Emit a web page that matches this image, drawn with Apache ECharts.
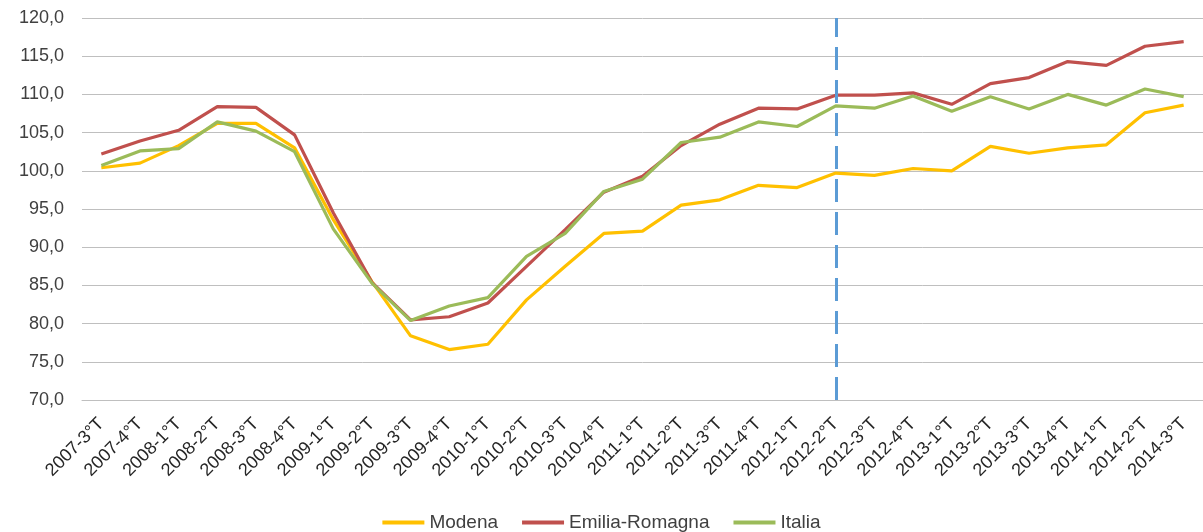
<!DOCTYPE html>
<html>
<head>
<meta charset="utf-8">
<script src="https://cdn.jsdelivr.net/npm/echarts@6/dist/echarts.min.js"></script>
<style>
  html, body { margin: 0; padding: 0; background: #fff; }
  #chart { width: 1203px; height: 532px; }
</style>
</head>
<body>
<div id="chart"></div>
<script>
const quarters = [
  "2007-3°T", "2007-4°T",
  "2008-1°T", "2008-2°T", "2008-3°T", "2008-4°T",
  "2009-1°T", "2009-2°T", "2009-3°T", "2009-4°T",
  "2010-1°T", "2010-2°T", "2010-3°T", "2010-4°T",
  "2011-1°T", "2011-2°T", "2011-3°T", "2011-4°T",
  "2012-1°T", "2012-2°T", "2012-3°T", "2012-4°T",
  "2013-1°T", "2013-2°T", "2013-3°T", "2013-4°T",
  "2014-1°T", "2014-2°T", "2014-3°T",
];

const modena = [
  100.4, 101.0, 103.3, 106.2, 106.2, 103.0, 93.6, 85.5, 78.4, 76.6,
  77.3, 83.1, 87.5, 91.8, 92.1, 95.5, 96.2, 98.1, 97.8, 99.7,
  99.4, 100.3, 100.0, 103.2, 102.3, 103.0, 103.4, 107.6, 108.6,
];
const emiliaRomagna = [
  102.2, 103.9, 105.3, 108.4, 108.3, 104.7, 94.5, 85.4, 80.5, 80.9,
  82.7, 87.5, 92.3, 97.2, 99.3, 103.3, 106.1, 108.2, 108.1, 109.9,
  109.9, 110.2, 108.7, 111.4, 112.2, 114.3, 113.8, 116.3, 116.9,
];
const italia = [
  100.7, 102.6, 102.9, 106.4, 105.2, 102.5, 92.4, 85.3, 80.4, 82.3,
  83.4, 88.8, 91.8, 97.3, 98.9, 103.7, 104.4, 106.4, 105.8, 108.5,
  108.2, 109.8, 107.8, 109.7, 108.1, 110.0, 108.6, 110.7, 109.7,
];

const markerQuarter = "2012-2°T";

const font = "Liberation Sans, Arial, sans-serif";

function lineSeries(name, color, data) {
  return {
    name,
    type: "line",
    symbol: "none",
    smooth: false,
    lineStyle: { width: 3.2, color },
    itemStyle: { color },
    data,
  };
}

const chart = echarts.init(document.getElementById("chart"));

const series = [
  lineSeries("Modena", "#ffc000", modena),
  lineSeries("Emilia-Romagna", "#c0504d", emiliaRomagna),
  lineSeries("Italia", "#9bbb59", italia),
];

// vertical dashed marker
series[0].markLine = {
  silent: true,
  symbol: "none",
  label: { show: false },
  lineStyle: { type: [23, 10], width: 3, color: "#5b9bd5" },
  data: [{ xAxis: markerQuarter }],
};

chart.setOption({
  animation: false,
  textStyle: { fontFamily: font },
  grid: { left: 82, right: 0, top: 18, bottom: 132 },
  legend: {
    data: ["Modena", "Emilia-Romagna", "Italia"],
    top: 508,
    left: "center",
    itemWidth: 42,
    itemHeight: 4,
    itemGap: 24,
    icon: "rect",
    textStyle: { fontSize: 19, color: "#404040", fontFamily: font },
  },
  xAxis: {
    type: "category",
    data: quarters,
    boundaryGap: true,
    axisLine: { lineStyle: { color: "#bfbfbf", width: 1 } },
    axisTick: { show: false },
    axisLabel: {
      rotate: 45,
      interval: 0,
      margin: 21,
      fontSize: 18,
      color: "#262626",
      fontFamily: font,
    },
  },
  yAxis: {
    type: "value",
    min: 70,
    max: 120,
    interval: 5,
    axisLine: { show: false },
    axisTick: { show: false },
    splitLine: { lineStyle: { color: "#bfbfbf", width: 1 } },
    axisLabel: {
      fontSize: 18,
      color: "#404040",
      margin: 18,
      fontFamily: font,
      formatter: (v) => v.toFixed(1).replace(".", ","),
    },
  },
  series,
});
</script>
</body>
</html>
